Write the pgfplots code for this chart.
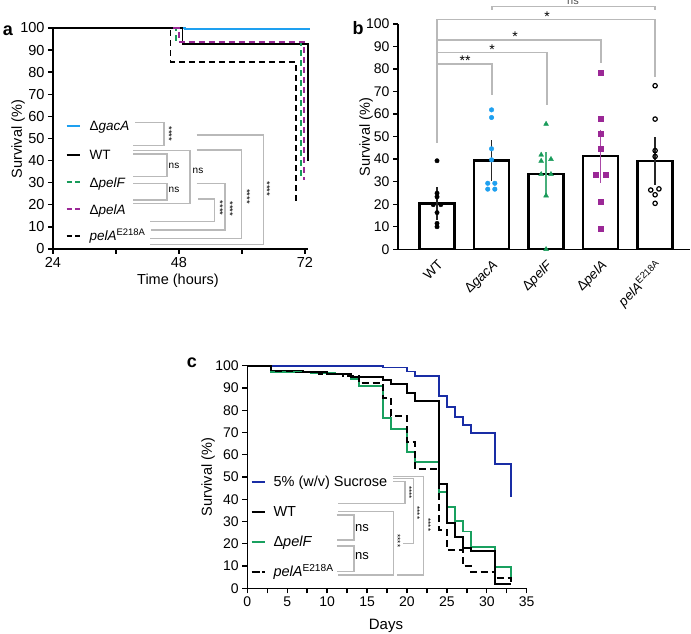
\documentclass[border=0pt]{standalone}
\usepackage{fontspec}
\setmainfont{Liberation Sans}
\usepackage{pgfplots}
\pgfplotsset{compat=1.18}

\definecolor{gacablue}{RGB}{30,160,240}
\definecolor{pelfgreen}{RGB}{25,155,90}
\definecolor{pelamag}{RGB}{155,40,150}
\definecolor{sucblue}{RGB}{25,45,165}
\definecolor{cgreen}{RGB}{25,160,95}
\definecolor{brk}{RGB}{185,185,185}

\newcommand{\fs}[1]{\fontsize{#1}{#1}\selectfont}

\pgfplotsset{
  prism/.style={
    scale only axis, clip=false,
    axis lines=left,
    axis line style={-, line width=1.5pt},
    tick align=outside,
    major tick length=5pt, minor tick length=5pt,
    tick style={line width=1.4pt, black},
    /pgf/number format/assume math mode=true,
  },
  km/.style={const plot mark left, line width=1.8pt, mark=none},
  dsh/.style={dash pattern=on 6pt off 4pt},
}

\begin{document}
\begin{tikzpicture}
\useasboundingbox (0,0) rectangle (691pt,634pt);

% ---------------- panel a ----------------
\begin{axis}[prism, at={(53pt,385pt)}, anchor=south west,
  width=255pt, height=221pt,
  xmin=24, xmax=72.6, ymin=0, ymax=100,
  xtick={24,48,72}, minor xtick={36,60}, ytick={0,10,...,100},
  tick label style={font=\fs{14.5}}]
\addplot[km, gacablue] coordinates {(24,100)(49.1,99.5)(73,99.5)};
\addplot[km, black] coordinates {(24,100)(48.7,92.8)(72.6,40)};
\addplot[km, pelfgreen, dsh] coordinates {(24,100)(47.4,93.5)(71.2,33)};
\addplot[km, pelamag, dsh] coordinates {(24,100)(48,93.8)(71.8,31)};
\addplot[km, black, dsh] coordinates {(24,100)(46.4,84.7)(70.3,21.4)};
\end{axis}

% ---------------- panel b ----------------
\begin{axis}[prism, at={(398pt,384.7pt)}, anchor=south west,
  width=292pt, height=225.3pt,
  xmin=-0.716, xmax=4.64, ymin=0, ymax=100,
  xtick={0,1,2,3,4}, ytick={0,10,...,100},
  xtick style={draw=none},
  xticklabels={WT, Δ\textit{gacA}, Δ\textit{pelF}, Δ\textit{pelA}, \textit{pelA}\textsuperscript{E218A}},
  yticklabel style={font=\fs{14}},
  xticklabel style={font=\fs{13.5}, rotate=45, anchor=north east}]
\addplot[ybar, bar width=35pt, fill=white, draw=black, line width=2.4pt]
  coordinates {(0,20.3)(1,39.4)(2,33.3)(3,41.3)(4,39.2)};
\addplot[draw=none, forget plot, error bars/.cd, y dir=both, y explicit,
  error bar style={line width=1.4pt, draw=black!85},
  error mark options={line width=1.4pt, mark size=9pt, draw=black!85}]
  coordinates {(0,20.3) +- (0,3.3) (1,39.4) +- (0,5) (4,39.2) +- (0,6.5)};
\addplot[draw=none, forget plot, error bars/.cd, y dir=both, y explicit,
  error bar style={line width=1.4pt, draw=pelfgreen!80},
  error mark options={line width=1.4pt, mark size=9pt, draw=pelfgreen!80}]
  coordinates {(2,33.3) +- (0,5.7)};
\addplot[draw=none, forget plot, error bars/.cd, y dir=both, y explicit,
  error bar style={line width=1.4pt, draw=pelamag!85},
  error mark options={line width=1.4pt, mark size=9pt, draw=pelamag!85}]
  coordinates {(3,41.3) +- (0,7.8)};
\addplot[only marks, mark=*, mark size=2.2pt, black]
  coordinates {(0,39.3)(0,24.9)(0,23.3)(-0.07,19.8)(0.07,19.8)(0,16.3)(0,11.5)(0,10)};
\addplot[only marks, mark=*, mark size=2.3pt, gacablue]
  coordinates {(1,61.9)(1,58.5)(1,44.6)(1,39.7)(0.93,29.3)(1.06,29.3)(0.93,26.7)(1.06,26.7)};
\addplot[only marks, mark=triangle*, mark size=2.8pt, pelfgreen]
  coordinates {(2,55.6)(1.91,41.9)(2.09,40)(1.91,39.2)(1.91,33.3)(2.09,33.3)(2,23.8)(2,0)};
\addplot[only marks, mark=square*, mark size=2.5pt, pelamag]
  coordinates {(3,78.2)(3,57.9)(3,51.5)(3,44.6)(2.91,33.3)(3.09,33.3)(3,21.2)(3,9.3)};
\addplot[only marks, mark=o, mark size=2.2pt, black, mark options={line width=1.2pt}]
  coordinates {(4,72.6)(4,57.8)(4,43.8)(4,41.2)(3.92,26.3)(4.07,26.8)(4,24.2)(4,20.4)};
\end{axis}

% ---------------- panel c ----------------
\begin{axis}[prism, at={(247.3pt,45.7pt)}, anchor=south west,
  width=279.4pt, height=222.6pt,
  xmin=0, xmax=35, ymin=0, ymax=100,
  xtick={0,5,...,35}, minor xtick={2.5,7.5,...,32.5}, ytick={0,10,...,100},
  tick label style={font=\fs{14}}]
\addplot[km, sucblue] coordinates {(0,100)(17,99.2)(20,97.4)(21,95.4)(24,86.4)(25,81.6)(26,77.1)(27,73.4)(28,69.6)(31,55.7)(33,41.2)};
\addplot[km, cgreen] coordinates {(0,100)(3,97.2)(8,96.6)(11,96.2)(13,94)(14,91)(17,76.4)(18,71.6)(20,61.4)(21,56.6)(24,43.3)(25,36.7)(26,30.3)(27,25.5)(28,18.4)(31,9.4)(33,4.5)};
\addplot[km, black, dash pattern=on 7pt off 4pt] coordinates {(0,100)(3,97.5)(6,96.9)(9,96.2)(12,95.5)(14,92.1)(17,85.6)(18,77.4)(20,65.6)(21,53.5)(24,26.2)(25,17.2)(27,9.9)(28,7.2)(31,4.5)(33,1.5)};
\addplot[km, black] coordinates {(0,100)(3,97.8)(7,97)(10,96.3)(13,95.1)(17,93.6)(18,91.8)(20,87.6)(21,84.3)(24,46.7)(25,29.2)(26,23.2)(27,18.2)(28,16.9)(31,2)(33,2)};
\end{axis}

% ---------------- annotations (pixel coordinates, y downwards) ----------------
\begin{scope}[x=1pt, y=-1pt, yshift=634pt]
% panel letters
\node[anchor=base, font=\bfseries\fs{18}] at (8,36) {a};
\node[anchor=base, font=\bfseries\fs{18}] at (358,35) {b};
\node[anchor=base, font=\bfseries\fs{18}] at (192,368) {c};

% axis titles
\node[rotate=90, font=\fs{14.5}] at (18,139) {Survival (\%)};
\node[anchor=base, font=\fs{14.5}] at (178,285) {Time (hours)};
\node[rotate=90, font=\fs{14.5}] at (366,137) {Survival (\%)};
\node[rotate=90, font=\fs{14.5}] at (208,477) {Survival (\%)};
\node[anchor=base, font=\fs{15}] at (386,630) {Days};

% panel a legend
\draw[gacablue, line width=1.8pt] (66.7,125.7) -- (80,125.7);
\draw[black, line width=1.8pt] (66.7,155) -- (80,155);
\draw[pelfgreen, line width=1.8pt, dash pattern=on 5pt off 3.3pt] (66.7,182.3) -- (80,182.3);
\draw[pelamag, line width=1.8pt, dash pattern=on 5pt off 3.3pt] (66.7,209.3) -- (80,209.3);
\draw[black, line width=1.8pt, dash pattern=on 5pt off 3.3pt] (66.7,236) -- (80,236);
\begin{scope}[every node/.style={anchor=base west, font=\fs{13.5}}]
\node at (86,130.5) {Δ\textit{gacA}};
\node at (86,159.8) {WT};
\node at (86,187.1) {Δ\textit{pelF}};
\node at (86,214.1) {Δ\textit{pelA}};
\node at (86,240.8) {\textit{pelA}\textsuperscript{E218A}};
\end{scope}

% panel a brackets
\begin{scope}[brk, line width=1.2pt]
\draw (135,122.7) -- (164,122.7) -- (164,145.7) -- (133,145.7);
\draw (133,154) -- (167,154) -- (167,176.7) -- (133,176.7);
\draw (133,150.7) -- (190,150.7) -- (190,203.3) -- (133,203.3);
\draw (133,183.3) -- (167,183.3) -- (167,200) -- (133,200);
\draw (198,199) -- (214.3,199) -- (214.3,221.7) -- (150,221.7);
\draw (196.7,183.3) -- (225,183.3) -- (225,230) -- (151,230);
\draw (196.7,150) -- (241.7,150) -- (241.7,238.3) -- (150,238.3);
\draw (196.7,135) -- (263.3,135) -- (263.3,244.3) -- (150,244.3);
\end{scope}
\begin{scope}[every node/.style={font=\fs{10}}]
\node at (174,165.7) {ns};
\node at (198,171) {ns};
\node at (174,190) {ns};
\end{scope}
\begin{scope}[every node/.style={font=\fs{9.5}, rotate=-90, inner sep=0pt}]
\node at (169,134) {****};
\node at (220,208.3) {****};
\node at (230,209) {****};
\node at (247,196.7) {****};
\node at (267,189) {****};
\end{scope}

% panel b brackets
\begin{scope}[brk, line width=1.3pt]
\draw (437,143) -- (437,64) -- (492,64) -- (492,95);
\draw (437,143) -- (437,52.3) -- (547,52.3) -- (547,105);
\draw (437,143) -- (437,40) -- (601,40) -- (601,63.3);
\draw (437,143) -- (437,19.7) -- (655,19.7) -- (655,77);
\draw (492,10) -- (492,6.7) -- (655,6.7) -- (655,10);
\end{scope}
\begin{scope}[every node/.style={font=\fs{14}}]
\node at (465,61) {**};
\node at (492,50) {*};
\node at (515,37) {*};
\node at (547,17) {*};
\end{scope}
\node[text=black!70, font=\fs{11}, anchor=base] at (573,4.5) {ns};

% panel c legend
\draw[sucblue, line width=1.8pt] (251.7,481.7) -- (265,481.7);
\draw[black, line width=1.8pt] (251.7,511.7) -- (265,511.7);
\draw[cgreen, line width=1.8pt] (251.7,541.7) -- (265,541.7);
\draw[black, line width=1.8pt] (251.7,571.7) -- (259.5,571.7);
\draw[black, line width=1.8pt] (262,571.7) -- (264.5,571.7);
\begin{scope}[every node/.style={anchor=base west, font=\fs{14.5}}]
\node at (270,486.9) {5\% (w/v) Sucrose};
\node at (270,516.9) {WT};
\node at (270,546.9) {Δ\textit{pelF}};
\node at (270,576.9) {\textit{pelA}\textsuperscript{E218A}};
\end{scope}

% panel c brackets
\begin{scope}[brk, line width=1.2pt]
\draw (336.7,515) -- (354,515) -- (354,540) -- (336.7,540);
\draw (336.7,546) -- (354,546) -- (354,571.7) -- (336.7,571.7);
\draw (393.3,481.7) -- (405,481.7) -- (405,503.3) -- (338,503.3);
\draw (393.3,478.3) -- (413.3,478.3) -- (413.3,543.3) -- (403,543.3);
\draw (393.3,476.7) -- (423.3,476.7) -- (423.3,575) -- (396.7,575);
\draw (338,511.7) -- (393.3,511.7) -- (393.3,575) -- (338,575);
\end{scope}
\begin{scope}[every node/.style={font=\fs{13}}]
\node at (362,528) {ns};
\node at (362,556) {ns};
\end{scope}
\begin{scope}[every node/.style={font=\fs{8}, rotate=-90, inner sep=0pt}]
\node at (409,492.7) {****};
\node at (417,513) {****};
\node at (428,525) {****};
\node at (397.5,541) {****};
\end{scope}
\end{scope}
\end{tikzpicture}
\end{document}
